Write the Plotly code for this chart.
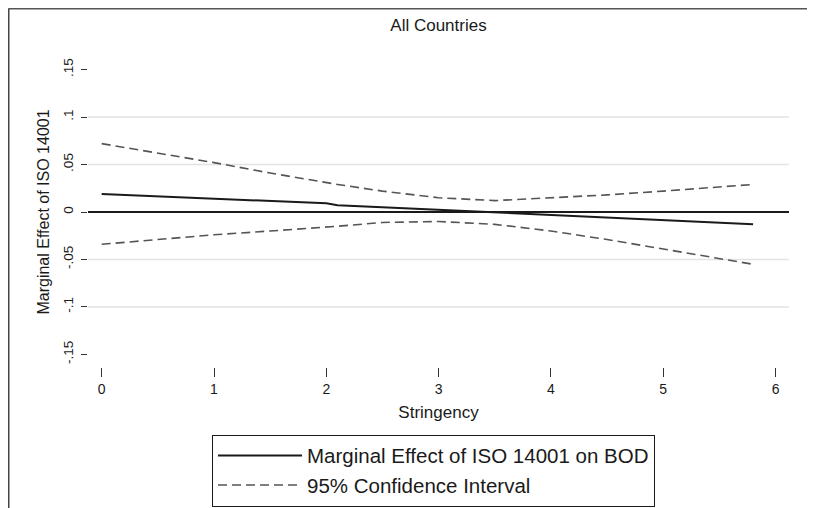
import plotly.graph_objects as go

# Data
stringency = [0, 0.5, 1, 1.5, 2, 2.1, 2.5, 3, 3.5, 4, 4.5, 5, 5.5, 5.8]
marginal_effect = [0.019, 0.0167, 0.0143, 0.0118, 0.0091, 0.0072, 0.0050, 0.0022, -0.0005, -0.0027, -0.0055, -0.0083, -0.0110, -0.0128]
ci_upper = [0.072, 0.062, 0.052, 0.041, 0.031, 0.029, 0.022, 0.015, 0.012, 0.015, 0.018, 0.022, 0.026, 0.029]
ci_lower = [-0.034, -0.029, -0.024, -0.020, -0.016, -0.015, -0.011, -0.010, -0.013, -0.020, -0.029, -0.039, -0.049, -0.055]

x_ticks = [0, 1, 2, 3, 4, 5, 6]
y_ticks = [-0.15, -0.1, -0.05, 0, 0.05, 0.1, 0.15]
y_tick_labels = ["-.15", "-.1", "-.05", "0", ".05", ".1", ".15"]
grid_values = [-0.1, -0.05, 0.05, 0.1]

FONT = "Arial, Liberation Sans, sans-serif"
TEXT = "#1a1a1a"

fig = go.Figure()
fig.add_trace(go.Scatter(
    x=stringency, y=marginal_effect, mode="lines",
    line=dict(color="#1a1a1a", width=2),
    name="Marginal Effect of ISO 14001 on BOD", legendrank=1,
))
fig.add_trace(go.Scatter(
    x=stringency, y=ci_upper, mode="lines",
    line=dict(color="#555555", width=1.6, dash="9px,5px"),
    name="95% Confidence Interval", legendgroup="ci", legendrank=2,
))
fig.add_trace(go.Scatter(
    x=stringency, y=ci_lower, mode="lines",
    line=dict(color="#555555", width=1.6, dash="9px,5px"),
    name="95% Confidence Interval", legendgroup="ci", showlegend=False,
))

shapes = []
for g in grid_values:
    shapes.append(dict(type="line", xref="x domain", x0=0, x1=1, yref="y", y0=g, y1=g,
                       line=dict(color="#e3e3e3", width=1.5), layer="below"))
# outer frame (left and top edges)
shapes.append(dict(type="line", xref="paper", yref="paper", x0=-0.1134, x1=1.05, y0=1.1565, y1=1.1565,
                   line=dict(color="#555555", width=2)))
shapes.append(dict(type="line", xref="paper", yref="paper", x0=-0.1134, x1=-0.1134, y0=1.1565, y1=-0.46,
                   line=dict(color="#444444", width=2)))

fig.update_layout(
    width=807, height=500,
    margin=dict(l=80, r=26, t=49, b=141, autoexpand=False),
    paper_bgcolor="white", plot_bgcolor="white",
    font=dict(family=FONT, color=TEXT),
    title=dict(text="All Countries", x=0.5, xref="paper", xanchor="center",
               y=1 - 17 / 500, yanchor="middle", font=dict(size=17, color=TEXT)),
    shapes=shapes,
    showlegend=True,
    legend=dict(x=0.1769, y=-0.218, xanchor="left", yanchor="top",
                bordercolor="#1a1a1a", borderwidth=1, bgcolor="white",
                font=dict(size=20.5), itemwidth=84, tracegroupgap=0),
    xaxis=dict(range=[-0.122, 6.12], tickvals=x_ticks, ticks="outside", ticklen=9,
               tickcolor="#333333", showgrid=False, zeroline=False, showline=False,
               ticklabelstandoff=0, automargin=False,
               tickfont=dict(size=14), title=dict(text="Stringency", font=dict(size=17), standoff=10)),
    yaxis=dict(range=[-0.1632, 0.1632], tickvals=y_ticks, ticktext=y_tick_labels, tickangle=-90,
               ticks="outside", ticklen=6, tickcolor="#333333", showgrid=False,
               zeroline=True, zerolinecolor="#1a1a1a", zerolinewidth=2, showline=False,
               ticklabelstandoff=3, automargin=False,
               tickfont=dict(size=13.5),
               title=dict(text="Marginal Effect of ISO 14001", font=dict(size=16), standoff=6)),
)

fig.write_html("out.html")
